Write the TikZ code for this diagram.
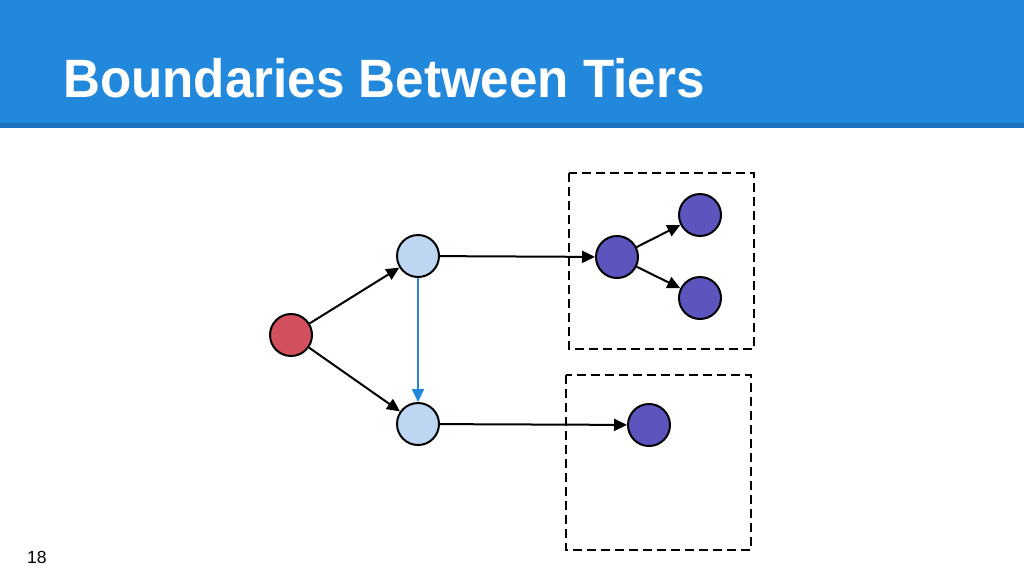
\documentclass[tikz,border=0pt]{standalone}
\usepackage{fontspec}
\setmainfont{Liberation Sans}
\usetikzlibrary{arrows.meta}
\definecolor{hdr}{HTML}{2288DC}
\definecolor{hdrdark}{HTML}{1C72BF}
\definecolor{redn}{HTML}{D24F5E}
\definecolor{lbluen}{HTML}{BDD7F3}
\definecolor{purplen}{HTML}{5B55BD}
\definecolor{bluearr}{HTML}{2288DC}
\tikzset{
  vnode/.style={circle, draw=black, line width=2pt, minimum size=42pt, inner sep=0pt},
  rnode/.style={vnode, fill=redn},
  lnode/.style={vnode, fill=lbluen},
  pnode/.style={vnode, fill=purplen},
  conn/.style={line width=2pt, -{Triangle[length=13pt,width=12pt]}},
  tierbox/.style={draw=black, line width=2pt, dash pattern=on 9pt off 5pt},
}
\begin{document}
\begin{tikzpicture}[x=1pt,y=-1pt]
\useasboundingbox (0,0) rectangle (1024,576);
\fill[white] (0,0) rectangle (1024,576);
\fill[hdr] (0,0) rectangle (1024,123);
\fill[hdrdark] (0,123) rectangle (1024,128);
\node[anchor=base west, text=white, inner sep=0pt] (title) at (63,97) {\scalebox{0.947}[1]{\fontsize{54}{64}\selectfont\bfseries Boundaries Between Tiers}};
\node[anchor=base west, font=\fontsize{17.5}{20}\selectfont, inner sep=0pt] (pg) at (27,563) {18};

\draw[tierbox] (569,173) rectangle (754,349);
\draw[tierbox] (566,375) rectangle (751,550);

\node[rnode] (r) at (291,335) {};
\node[lnode] (a) at (418,256) {};
\node[lnode] (b) at (418,424) {};
\node[pnode] (p1) at (617,257) {};
\node[pnode] (p2) at (700,215) {};
\node[pnode] (p3) at (700,298) {};
\node[pnode] (p4) at (649,425) {};

\draw[conn] (r) -- (a);
\draw[conn] (r) -- (b);
\draw[conn, draw=bluearr, -{Triangle[length=13pt,width=12pt,color=bluearr]}] (a) -- (b);
\draw[conn] (a) -- (p1);
\draw[conn] (b) -- (p4);
\draw[conn] (p1) -- (p2);
\draw[conn] (p1) -- (p3);
\end{tikzpicture}
\end{document}
